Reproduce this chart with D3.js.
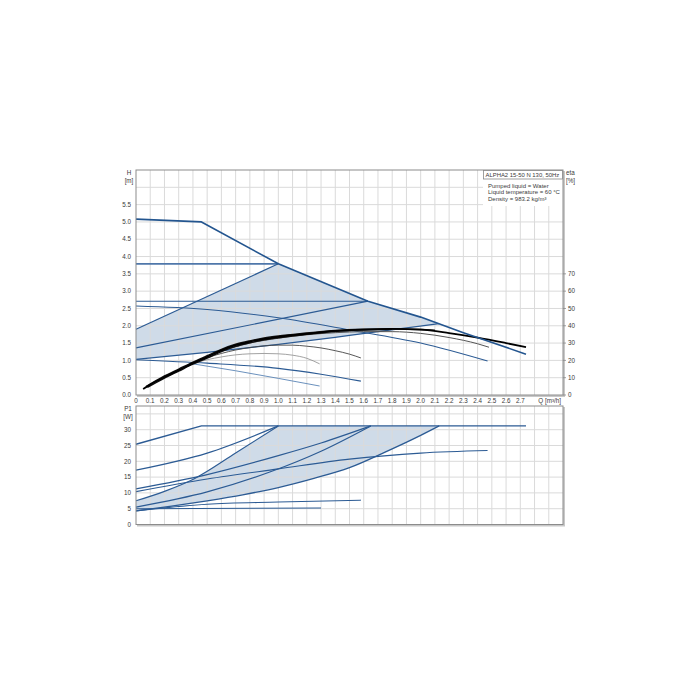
<!DOCTYPE html>
<html>
<head>
<meta charset="utf-8">
<script src="https://cdn.jsdelivr.net/npm/d3@7"></script>
<style>
  body { margin: 0; background: #fff; }
  text { font-family: "Liberation Sans", Arial, sans-serif; fill: #3a3a3a; }
</style>
</head>
<body>
<div id="chart"></div>
<script>
// flow axis (m3/h)
var qTicks = d3.range(0, 28).map(function (i) { return i / 10; });
var hTicks = [0, 0.5, 1, 1.5, 2, 2.5, 3, 3.5, 4, 4.5, 5, 5.5];
var etaTicks = [0, 10, 20, 30, 40, 50, 60, 70];
var pTicks = [0, 5, 10, 15, 20, 25, 30];

// head curves H [m]
var ccIII_Q = [0, 0.46, 1.0, 1.63, 2.0, 2.3, 2.74];
var ccIII_H = [5.08, 5.0, 3.79, 2.71, 2.25, 1.8, 1.18];
var cp3_Q = [0, 1.0];
var cp3_H = [3.79, 3.79];
var cp2_Q = [0, 1.63];
var cp2_H = [2.71, 2.71];
var ppTop_Q = [0, 1.0];
var ppTop_H = [1.9, 3.79];
var pp2_Q = [0, 1.63];
var pp2_H = [1.36, 2.71];
var ppLow_Q = [0, 0.5, 1.0, 1.5, 2.13];
var ppLow_H = [1.03, 1.23, 1.46, 1.72, 2.06];
var ccII_Q = [0, 0.5, 1.0, 1.5, 2.0, 2.47];
var ccII_H = [2.57, 2.47, 2.23, 1.88, 1.5, 0.98];
var ccI_Q = [0, 0.5, 1.0, 1.3, 1.58];
var ccI_H = [1.02, 0.92, 0.77, 0.6, 0.4];
var min_Q = [0.4, 0.7, 1.0, 1.29];
var min_H = [0.9, 0.7, 0.48, 0.26];

// efficiency curves eta [%]
var etaMain_Q = [0.05, 0.1, 0.2, 0.3, 0.4, 0.5, 0.6, 0.7, 0.8, 0.9, 1.0, 1.2, 1.4, 1.6, 1.8, 2.0, 2.2, 2.4, 2.6, 2.74];
var etaMain = [3.4, 6, 10.4, 14.4, 18.4, 22, 25.8, 28.8, 30.8, 32.4, 33.6, 35.4, 37, 37.8, 38.2, 37.8, 35.8, 33.2, 30, 27.6];
var etaUp_Q = [0.07, 0.2, 0.3, 0.4, 0.5, 0.6, 0.7, 0.8, 0.9, 1.0, 1.2, 1.4, 1.6, 1.8, 2.1];
var etaUp = [4.8, 11.0, 15.0, 19.0, 22.7, 26.4, 29.3, 31.3, 32.9, 34.1, 35.8, 37.3, 38.0, 38.3, 37.4];
var etaLow_Q = [0.08, 0.2, 0.3, 0.4, 0.5, 0.6, 0.7, 0.8, 0.9, 1.0, 1.2, 1.4, 1.6, 1.8];
var etaLow = [4.4, 9.8, 13.8, 17.8, 21.3, 25.1, 28.1, 30.2, 31.9, 33.1, 35.0, 36.7, 37.5, 37.9];
var etaII_Q = [0.6, 0.8, 1.0, 1.2, 1.4, 1.6, 1.8, 2.0, 2.2, 2.4, 2.48];
var etaII = [25.4, 30, 32.8, 34.8, 36, 36.6, 36.6, 35.6, 33.2, 29.6, 27.6];
var etaI_Q = [0.4, 0.5, 0.6, 0.7, 0.8, 0.9, 1.0, 1.1, 1.2, 1.3, 1.4, 1.5, 1.58];
var etaI = [18.6, 21.6, 24, 26, 27.4, 28.4, 28.8, 28.8, 28.2, 27.2, 25.6, 23.6, 21.4];
var etaMin_Q = [0.4, 0.5, 0.6, 0.7, 0.8, 0.9, 1.0, 1.1, 1.2, 1.29];
var etaMin = [18.2, 20.4, 22, 23.2, 23.8, 24, 23.8, 23, 21.2, 18];

// power curves P1 [W]
var pIII_Q = [0, 0.46, 2.74];
var pIII = [25.4, 31.2, 31.2];
var pCp3_Q = [0, 0.5, 1.0];
var pCp3 = [17.2, 22.6, 31.2];
var pPpTop_Q = [0, 0.2, 0.41, 0.7, 1.0];
var pPpTop = [7.5, 10.5, 14.5, 22.6, 31.2];
var pCp2_Q = [0, 0.5, 1.0, 1.3, 1.65];
var pCp2 = [11.3, 15.8, 21.8, 25.8, 31.2];
var pPp2_Q = [0, 0.5, 0.94, 1.3, 1.65];
var pPp2 = [5.5, 10.3, 16.6, 23.2, 31.2];
var pPpLow_Q = [0, 0.25, 0.5, 0.75, 1.0, 1.25, 1.5, 1.75, 2.0, 2.13];
var pPpLow = [4.3, 5.8, 7.5, 9.4, 11.7, 14.6, 18.0, 22.9, 28.2, 31.2];
var pII_Q = [0, 0.5, 1.0, 1.5, 2.0, 2.47];
var pII = [10.4, 14.4, 17.6, 20.7, 22.6, 23.4];
var pI_Q = [0, 0.5, 1.0, 1.58];
var pI = [4.3, 6.4, 7.1, 7.7];
var pMin_Q = [0, 1.3];
var pMin = [5.0, 5.2];

var infoTitle = "ALPHA2 15-50 N 130, 50Hz";
var infoLines = ["Pumped liquid = Water", "Liquid temperature = 60 °C", "Density = 983.2 kg/m³"];

var blue = "#2c5b94";
var shade = "#cfdbe8";

var svg = d3.select("#chart").append("svg")
  .attr("width", 700)
  .attr("height", 700);

var x = d3.scaleLinear().domain([0, 3]).range([136, 563]);
var yH = d3.scaleLinear().domain([0, 6.5]).range([395, 170]);
var yEta = d3.scaleLinear().domain([0, 130]).range([395, 170]);
var yP = d3.scaleLinear().domain([0, 37.5]).range([524.5, 406]);

function pts(qs, vs) {
  return qs.map(function (q, i) { return [q, vs[i]]; });
}

function drawGrid(y, yGrid, top, bottom) {
  var g = svg.append("g").attr("stroke", "#dadada").attr("stroke-width", 1);
  g.selectAll(".v").data(d3.range(1, 30).map(function (i) { return i / 10; }))
    .enter().append("line")
    .attr("x1", function (d) { return x(d); }).attr("x2", function (d) { return x(d); })
    .attr("y1", top).attr("y2", bottom);
  g.selectAll(".h").data(yGrid)
    .enter().append("line")
    .attr("x1", x(0)).attr("x2", x(3))
    .attr("y1", function (d) { return y(d); }).attr("y2", function (d) { return y(d); });
}

function drawFrame(top, bottom) {
  svg.append("line").attr("x1", x(3) + 1).attr("x2", x(3) + 1).attr("y1", top + 1).attr("y2", bottom + 1)
    .attr("stroke", "#c8c8c8").attr("stroke-width", 2);
  svg.append("line").attr("x1", x(0) + 1).attr("x2", x(3) + 2).attr("y1", bottom + 1).attr("y2", bottom + 1)
    .attr("stroke", "#c8c8c8").attr("stroke-width", 2);
  svg.append("rect")
    .attr("x", x(0)).attr("y", top)
    .attr("width", x(3) - x(0)).attr("height", bottom - top)
    .attr("fill", "none").attr("stroke", "#8c8c8c").attr("stroke-width", 1);
}

function curve(y, data, color, width, smooth) {
  var line = d3.line()
    .x(function (d) { return x(d[0]); })
    .y(function (d) { return y(d[1]); })
    .curve(smooth ? d3.curveMonotoneX : d3.curveLinear);
  svg.append("path")
    .attr("d", line(data))
    .attr("fill", "none")
    .attr("stroke", color)
    .attr("stroke-width", width)
    .attr("stroke-linejoin", "round");
}

// ---------- top panel (H / eta) ----------
// autoadapt area
var topArea = pts(ppTop_Q, ppTop_H)
  .concat(pts(ccIII_Q, ccIII_H).filter(function (d) { return d[0] > 1.0 && d[0] < 2.13; }))
  .concat([[2.13, 2.06]])
  .concat(pts(ppLow_Q, ppLow_H).reverse());
svg.append("path")
  .attr("d", d3.line().x(function (d) { return x(d[0]); }).y(function (d) { return yH(d[1]); })(topArea) + "Z")
  .attr("fill", shade);

drawGrid(yH, d3.range(0.5, 6.5, 0.5), 170, 395);

// info box
svg.append("rect").attr("x", 483).attr("y", 170).attr("width", 80).attr("height", 36).attr("fill", "#fff");
svg.append("rect").attr("x", 483.5).attr("y", 170.5).attr("width", 79).attr("height", 8.5)
  .attr("fill", "#fff").attr("stroke", "#888").attr("stroke-width", 0.8);
svg.append("text").attr("x", 485.5).attr("y", 177).attr("font-size", 5.9).text(infoTitle);
svg.selectAll(".info").data(infoLines).enter().append("text")
  .attr("x", 488).attr("y", function (d, i) { return 188 + i * 6.3; })
  .attr("font-size", 6.0).text(function (d) { return d; });

curve(yH, pts(cp3_Q, cp3_H), "#4f77aa", 1.8, false);
curve(yH, pts(cp2_Q, cp2_H), blue, 1.1, false);
curve(yH, pts(ppTop_Q, ppTop_H), blue, 1.2, false);
curve(yH, pts(pp2_Q, pp2_H), blue, 1.2, false);
curve(yH, pts(ppLow_Q, ppLow_H), blue, 1.2, true);
curve(yH, pts(ccII_Q, ccII_H), blue, 1.1, true);
curve(yH, pts(ccI_Q, ccI_H), blue, 1.1, true);
curve(yH, pts(min_Q, min_H), "#5a84b6", 0.9, false);

curve(yEta, pts(etaMin_Q, etaMin), "#8a8a8a", 0.8, true);
curve(yEta, pts(etaI_Q, etaI), "#444", 0.9, true);
curve(yEta, pts(etaII_Q, etaII), "#555", 1.0, true);
curve(yEta, pts(etaLow_Q, etaLow), "#111", 1.4, true);
curve(yEta, pts(etaUp_Q, etaUp), "#111", 1.4, true);
curve(yEta, pts(etaMain_Q, etaMain), "#000", 1.8, true);

curve(yH, pts(ccIII_Q, ccIII_H), "#23558f", 1.6, false);

drawFrame(170, 395);

// ---------- bottom panel (P1) ----------
var pLine = d3.line().x(function (d) { return x(d[0]); }).y(function (d) { return yP(d[1]); }).curve(d3.curveMonotoneX);
svg.append("path")
  .attr("d", pLine(pts(pPpTop_Q, pPpTop))
    + "L" + x(2.13) + "," + yP(31.2)
    + pLine(pts(pPpLow_Q, pPpLow).reverse()).replace("M", "L")
    + "Z")
  .attr("fill", shade);

drawGrid(yP, d3.range(5, 37.5, 5), 406, 524.5);

curve(yP, pts(pCp3_Q, pCp3), blue, 1.2, true);
curve(yP, pts(pPpTop_Q, pPpTop), blue, 1.2, true);
curve(yP, pts(pCp2_Q, pCp2), blue, 1.2, true);
curve(yP, pts(pPp2_Q, pPp2), blue, 1.2, true);
curve(yP, pts(pPpLow_Q, pPpLow), blue, 1.3, true);
curve(yP, pts(pII_Q, pII), blue, 1.1, true);
curve(yP, pts(pI_Q, pI), blue, 1.1, true);
curve(yP, pts(pMin_Q, pMin), blue, 1.1, false);
curve(yP, pts(pIII_Q, pIII), blue, 1.4, false);

drawFrame(406, 524.5);

// ---------- axes labels ----------
var fs = 6.3;
svg.selectAll(".qt").data(qTicks).enter().append("text")
  .attr("x", function (d) { return x(d); }).attr("y", 403)
  .attr("text-anchor", "middle").attr("font-size", fs)
  .text(function (d) { return d === 0 ? "0" : d3.format(".1f")(d); });
svg.append("text").attr("x", 561).attr("y", 403).attr("text-anchor", "end").attr("font-size", fs).text("Q [m³/h]");

svg.selectAll(".ht").data(hTicks).enter().append("text")
  .attr("x", 131).attr("y", function (d) { return yH(d) + 2.2; })
  .attr("text-anchor", "end").attr("font-size", fs)
  .text(function (d) { return d3.format(".1f")(d); });
svg.append("text").attr("x", 129).attr("y", 175).attr("text-anchor", "middle").attr("font-size", fs).text("H");
svg.append("text").attr("x", 129).attr("y", 182.5).attr("text-anchor", "middle").attr("font-size", fs).text("[m]");

svg.selectAll(".et").data(etaTicks).enter().append("line")
  .attr("x1", 563).attr("x2", 566)
  .attr("y1", function (d) { return yEta(d); }).attr("y2", function (d) { return yEta(d); })
  .attr("stroke", "#888").attr("stroke-width", 0.8);
svg.selectAll(".etl").data(etaTicks).enter().append("text")
  .attr("x", 568).attr("y", function (d) { return yEta(d) + 2.2; })
  .attr("font-size", fs).text(function (d) { return d; });
svg.append("text").attr("x", 566).attr("y", 175).attr("font-size", fs).text("eta");
svg.append("text").attr("x", 566).attr("y", 182.5).attr("font-size", fs).text("[%]");

svg.selectAll(".pt").data(pTicks).enter().append("text")
  .attr("x", 131).attr("y", function (d) { return yP(d) + 2.2; })
  .attr("text-anchor", "end").attr("font-size", fs)
  .text(function (d) { return d; });
svg.append("text").attr("x", 128).attr("y", 411).attr("text-anchor", "middle").attr("font-size", fs).text("P1");
svg.append("text").attr("x", 128).attr("y", 418.5).attr("text-anchor", "middle").attr("font-size", fs).text("[W]");
</script>
</body>
</html>
